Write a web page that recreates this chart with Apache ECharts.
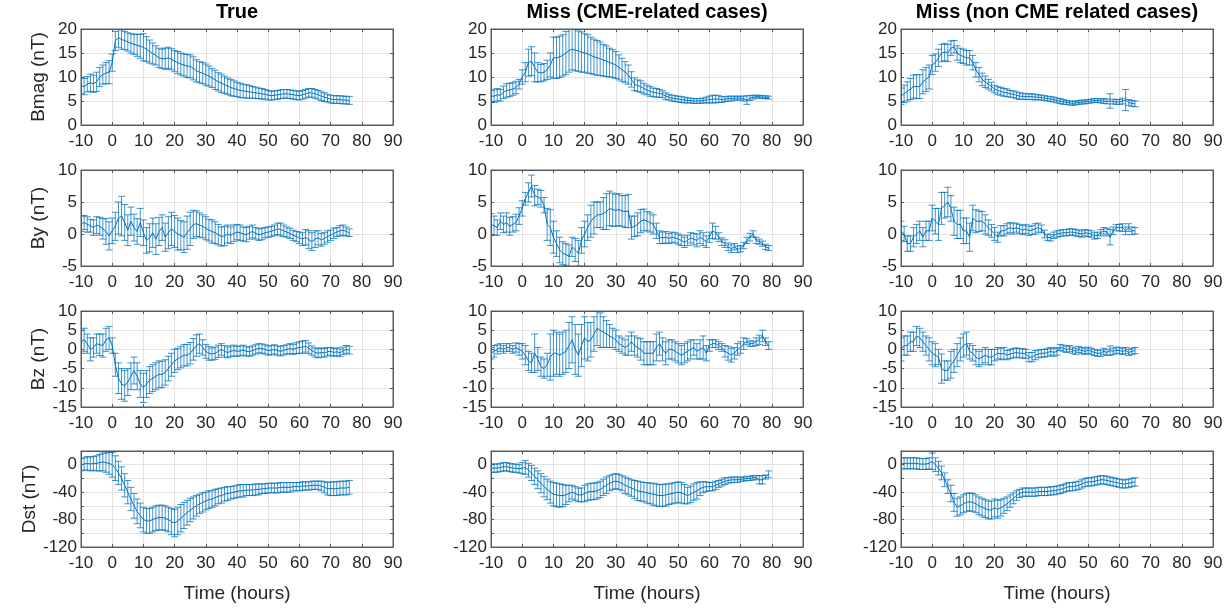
<!DOCTYPE html>
<html><head><meta charset="utf-8">
<script src="https://cdn.jsdelivr.net/npm/echarts@6/dist/echarts.min.js"></script>
<style>html,body{margin:0;padding:0;background:#fff}#c{width:1229px;height:613px}</style>
</head><body><div id="c"></div>
<script>
// ---------- labels / ticks ----------
const columnTitles = ['True', 'Miss (CME-related cases)', 'Miss (non CME related cases)'];
const rowNames = ['Bmag (nT)', 'By (nT)', 'Bz (nT)', 'Dst (nT)'];
const xAxisName = 'Time (hours)';
const xRange = [-10, 90, 10];
const yRanges = [[0, 20, 5], [-5, 10, 5], [-15, 10, 5], [-120, 20, 20]];
const dstTickLabels = [-120, -80, -40, 0];
const startHour = -10; // hourly samples from -10 h
// ---------- TRUE (hours -10..76) ----------
const trueBmagMean = [8.2,8.0,8.5,8.8,8.6,9.0,10.0,10.5,10.8,11.0, 13.0,17.5,18.2,17.8,17.6,17.3,17.0,16.8,16.6,16.4,16.2, 15.8,15.3,14.9,14.5,14.0,13.8,13.8,14.0,13.7,13.3, 13.0,12.7,12.5,12.3,12.2,11.8,11.3,11.0,10.8,10.5, 10.2,9.8,9.4,9.0,8.7,8.4,8.1,7.8,7.6,7.4, 7.2,7.1,7.0,6.9,6.8,6.7,6.6,6.5,6.4,6.2, 6.1,6.2,6.3,6.4,6.5,6.5,6.4,6.3,6.2,6.1, 6.3,6.5,6.7,6.7,6.5,6.3,6.0,5.8,5.6,5.4, 5.3,5.3,5.3,5.2,5.2,5.1];
const trueBmagErr = [1.7,1.7,1.6,1.8,1.8,2.0,2.0,2.0,2.2,2.4, 1.8,2.0,2.0,2.0,1.9,1.9,2.0,2.1,2.3,2.5,2.8, 2.6,2.4,2.2,2.0,2.0,2.0,2.2,2.2,2.2,2.2, 2.3,2.3,2.3,2.4,2.4,2.4,2.3,2.2,2.2,2.2, 2.1,2.0,2.0,1.9,1.9,1.8,1.7,1.7,1.6,1.5, 1.5,1.4,1.4,1.3,1.2,1.2,1.1,1.1,1.0,1.0, 0.9,0.9,0.9,0.9,0.9,0.9,0.9,0.9,0.9,0.9, 0.9,0.9,0.9,0.9,0.9,0.9,0.9,0.9,0.8,0.8, 0.8,0.8,0.8,0.8,0.8,0.8];
const trueByMean = [1.6,1.8,1.5,1.3,1.0,1.4,1.2,0.8,0.4,-0.3, 0.5,1.2,2.5,2.8,1.8,0.6,2.0,1.0,0.4,1.8,0.2, -1.0,-0.6,0.2,-0.8,0.4,1.0,-0.5,0.2,0.8,0.4, 0.0,-0.2,-0.5,0.2,0.8,1.5,1.6,1.4,1.2,0.9, 0.6,0.4,0.2,-0.1,-0.4,-0.3,0.0,-0.2,0.1,0.3, 0.2,0.0,-0.1,0.2,0.4,0.1,-0.1,0.0,0.2,0.3, 0.4,0.6,0.8,0.7,0.5,0.3,0.1,-0.2,-0.4,-0.6, -0.8,-0.5,-0.9,-1.2,-0.8,-0.6,-0.9,-0.7,-0.4,-0.2, 0.1,0.3,0.5,0.6,0.4,0.2];
const trueByErr = [1.2,1.1,1.2,1.0,1.2,1.3,1.4,1.6,2.0,2.2, 2.0,2.2,2.5,3.1,2.8,2.4,2.2,2.1,2.0,2.2,2.0, 2.0,2.2,2.3,2.4,2.2,2.0,2.2,2.5,2.6,2.5, 2.5,2.3,2.4,2.6,2.6,2.2,2.0,1.9,1.8,1.8, 1.7,1.8,1.7,1.6,1.5,1.5,1.4,1.3,1.3,1.2, 1.2,1.1,1.1,1.0,1.0,0.9,0.9,0.9,0.8,0.8, 0.8,0.8,0.9,1.0,0.9,0.8,0.8,0.8,0.8,0.9, 1.0,1.2,1.4,1.4,1.3,1.1,1.0,0.9,0.9,0.8, 0.8,0.7,0.8,0.8,0.7,0.6];
const trueBzMean = [2.0,2.5,1.5,0.0,0.5,1.5,1.2,1.0,2.5,3.0, 1.0,-4.0,-7.5,-9.0,-9.5,-8.5,-7.0,-5.5,-7.0,-9.0,-10.0, -9.0,-8.0,-7.5,-7.0,-6.5,-6.5,-6.0,-5.0,-4.0,-3.0, -2.5,-2.0,-1.5,-1.5,-1.0,0.0,1.0,1.5,0.5,-0.5, -1.0,-1.2,-1.0,-0.5,0.0,-0.5,-0.8,-0.5,-0.3,-0.5, -0.4,-0.2,-0.5,-0.6,-0.3,0.0,0.3,0.2,0.0,-0.3, -0.2,0.0,-0.3,-0.5,-0.2,0.0,0.2,0.0,0.3,0.5, 0.6,0.8,0.3,-0.3,-0.8,-1.0,-0.8,-0.9,-0.6,-0.5, -0.8,-0.6,-0.9,-0.4,0.0,-0.2];
const trueBzErr = [3.0,3.0,2.5,3.0,2.5,2.5,2.8,3.0,3.0,3.0, 2.0,3.0,4.0,4.0,4.0,3.5,3.5,3.5,3.5,3.5,3.8, 3.5,3.5,3.5,3.5,3.5,3.4,3.3,3.2,3.0,3.0, 2.8,2.8,2.8,2.8,2.8,2.8,2.8,2.5,2.0,1.8, 1.8,1.6,1.6,1.6,1.5,1.5,1.4,1.4,1.4,1.3, 1.3,1.3,1.2,1.2,1.2,1.2,1.2,1.2,1.2,1.2, 1.2,1.2,1.2,1.2,1.2,1.2,1.3,1.3,1.4,1.5, 1.6,1.5,1.4,1.2,1.2,1.2,1.2,1.1,1.1,1.0, 1.0,1.0,1.0,1.0,1.0,1.0];
const trueDstMean = [0,1,2,1,2,2,3,4,3,2, 0,-5,-12,-20,-30,-40,-50,-60,-68,-74,-80, -82,-82,-80,-78,-77,-77,-78,-80,-83,-85, -82,-78,-74,-70,-66,-63,-60,-57,-55,-53, -51,-50,-48,-46,-45,-43,-42,-41,-40,-39, -38,-38,-37,-37,-37,-36,-36,-35,-35,-34, -34,-34,-34,-33,-33,-33,-33,-32,-32,-32, -31,-31,-31,-30,-30,-30,-31,-33,-35,-35, -35,-35,-34,-34,-34,-33];
const trueDstErr = [9,9,10,10,10,11,12,13,14,16, 18,18,17,17,17,17,17,18,18,18,18, 18,18,18,18,18,18,18,18,19,20, 20,20,19,18,17,16,15,14,14,13, 13,12,12,11,11,10,10,9,9,9, 9,9,8,8,8,8,8,7,7,7, 7,7,7,7,7,7,7,6,6,6, 6,6,6,6,6,6,7,8,9,10, 10,10,10,10,10,10];
// ---------- MISS, CME-related (hours -10..79) ----------
const cmeBmagMean = [6.0,6.0,6.3,6.2,6.8,7.2,7.3,7.5,7.8,8.5, 10.0,11.0,13.0,13.3,12.0,11.0,10.8,11.0,11.5,12.5,14.0, 14.0,14.2,14.5,15.0,15.5,15.8,15.6,15.4,15.2,15.0, 14.8,14.5,14.2,14.0,13.8,13.5,13.3,13.0,12.8,12.5, 12.0,11.5,11.0,10.5,9.5,8.5,8.2,8.0,7.6,7.3, 7.0,6.8,6.7,6.6,6.4,6.0,5.8,5.6,5.5,5.4, 5.3,5.2,5.1,5.1,5.0,5.0,5.0,5.1,5.2,5.3, 5.4,5.4,5.4,5.3,5.4,5.5,5.5,5.6,5.6,5.6, 5.5,5.2,5.6,5.8,5.9,5.9,5.8,5.8,5.7];
const cmeBmagErr = [1.3,1.3,1.3,1.2,1.3,1.4,1.4,1.3,1.3,1.0, 1.5,2.0,2.8,3.0,3.0,2.0,1.8,1.8,2.0,2.5,4.3, 4.3,4.3,4.3,4.5,4.5,4.3,4.3,4.2,4.2,4.0, 4.0,3.8,3.7,3.6,3.5,3.3,3.2,3.0,2.9,2.8, 2.6,2.4,2.2,2.0,1.6,1.3,1.2,1.2,1.1,1.0, 1.0,0.9,0.9,0.8,0.7,0.7,0.6,0.6,0.6,0.6, 0.6,0.6,0.5,0.5,0.5,0.5,0.5,0.5,0.6,0.7, 0.8,0.8,0.7,0.6,0.5,0.5,0.5,0.4,0.4,0.4, 0.5,0.9,0.5,0.4,0.3,0.3,0.3,0.3,0.3];
const cmeByMean = [1.5,1.3,1.0,2.0,1.5,1.8,1.2,1.5,1.8,2.8, 4.0,5.5,6.5,7.5,6.0,5.8,5.5,4.5,1.5,1.0,-0.5, -1.5,-2.5,-3.0,-3.2,-3.5,-2.0,-2.5,-3.0,-1.0,0.0, 1.0,2.0,2.5,3.0,3.0,3.2,3.5,4.0,3.8,3.7, 3.8,3.6,3.5,3.6,1.0,1.2,1.5,2.0,2.2,2.0, 1.8,1.5,0.5,-0.5,-0.6,-0.5,-0.7,-0.5,-0.6,-0.8, -1.0,-1.3,-1.0,-0.6,-0.8,-1.0,-0.5,-0.8,-1.2,-0.5, 0.5,0.2,-0.5,-1.2,-1.5,-2.0,-2.3,-2.0,-2.4,-2.3, -1.8,-1.0,-0.5,0.0,-1.0,-1.2,-1.5,-2.0,-2.2];
const cmeByErr = [1.7,1.5,1.2,1.3,1.3,1.5,1.4,1.2,1.3,1.3, 1.2,1.0,1.5,1.7,1.6,1.2,1.3,1.2,2.5,2.8,2.5, 2.0,2.0,1.8,1.7,1.8,1.5,1.8,2.0,2.0,2.0, 2.0,2.5,2.5,2.0,2.0,2.5,2.8,2.7,2.6,2.5, 2.5,2.4,2.5,2.6,1.8,1.6,1.8,1.8,1.7,1.5, 1.5,1.5,1.2,1.0,0.9,0.9,0.8,0.8,0.8,0.8, 0.8,0.8,0.8,0.8,0.9,1.0,1.0,1.0,0.9,0.8, 1.2,1.0,0.7,0.6,0.6,0.6,0.6,0.5,0.5,0.5, 0.5,0.5,0.6,0.5,0.5,0.4,0.4,0.4,0.4];
const cmeBzMean = [-1.0,-0.5,0.0,0.5,0.0,0.5,0.5,0.0,0.5,0.0, -0.5,-1.5,-3.0,-3.5,-1.0,-2.5,-4.5,-5.0,-4.0,-2.0,-1.0, -1.0,-1.5,-1.0,-0.5,1.0,2.5,0.0,-1.5,1.0,3.0, 2.0,2.5,4.0,5.5,5.0,4.5,4.0,3.5,3.0,2.5, 1.5,1.0,0.5,1.0,2.0,1.0,0.5,0.0,-1.0,-1.0, -1.0,-1.0,0.5,1.5,0.0,-1.0,0.0,0.0,-0.5,-1.0, -1.5,-1.0,-0.5,0.0,0.5,-0.5,0.0,0.5,-1.0,1.0, 1.5,1.5,1.0,0.5,-0.5,-1.0,-1.5,-1.0,0.0,0.5, 1.5,2.0,1.5,1.5,2.0,2.5,3.5,2.0,1.0];
const cmeBzErr = [1.5,1.5,1.2,1.0,1.0,1.0,1.0,1.0,1.2,1.5, 2.0,2.5,2.5,2.5,5.0,3.0,2.5,2.5,3.0,6.0,6.0, 5.5,5.5,5.5,5.5,6.0,6.0,6.5,5.5,5.5,5.5, 5.0,4.5,4.5,4.5,4.5,4.0,3.5,3.0,2.5,2.5, 2.0,2.0,2.0,2.5,2.5,2.5,2.5,2.8,3.0,3.0, 3.0,3.0,3.5,3.0,3.0,3.0,2.5,2.5,2.5,2.5, 2.5,2.5,2.5,2.5,2.0,2.0,2.5,3.0,2.0,1.5, 1.0,1.0,1.0,1.0,1.5,1.8,1.8,1.5,1.5,1.5, 1.5,0.8,0.7,0.7,1.0,1.2,1.5,1.0,1.0];
const cmeDstMean = [-5,-5,-5,-4,-3,-3,-4,-5,-5,-6, -5,-4,-8,-12,-17,-22,-27,-32,-36,-40,-43, -44,-45,-45,-44,-42,-40,-42,-44,-44,-42, -40,-39,-39,-38,-36,-33,-30,-27,-25,-24, -25,-27,-30,-32,-34,-36,-38,-39,-40,-41, -42,-43,-44,-45,-45,-44,-43,-42,-41,-40, -41,-43,-45,-43,-40,-38,-35,-33,-32,-32, -32,-30,-28,-26,-24,-23,-22,-22,-22,-21, -21,-20,-20,-19,-19,-22,-22,-18,-14];
const cmeDstErr = [6,6,6,6,6,6,6,6,6,6, 8,10,10,11,12,13,14,15,15,16,17, 17,17,16,14,12,10,10,10,10,12, 12,12,12,12,12,12,12,11,11,11, 11,11,12,12,12,13,14,14,14,15, 15,16,16,16,16,16,15,15,15,15, 15,14,12,12,12,12,10,8,7,6, 6,6,5,5,5,4,4,4,4,3, 3,3,3,3,3,6,6,3,5];
// ---------- MISS, non CME related (hours -10..65) ----------
const nonBmagMean = [6.0,6.5,7.0,7.5,8.0,8.0,8.0,9.0,9.5,10.0, 12.5,13.0,14.0,15.0,15.2,15.0,16.0,16.3,15.0,14.5,14.3, 14.0,14.0,13.0,11.5,10.5,9.5,9.0,8.5,8.0,7.5, 7.2,7.0,6.8,6.7,6.5,6.4,6.2,6.0,6.0,5.9, 5.9,5.9,5.8,5.8,5.7,5.6,5.5,5.4,5.3,5.1, 5.0,4.8,4.7,4.6,4.5,4.6,4.7,4.8,4.8,4.9, 5.0,5.1,5.1,5.0,5.0,4.9,5.0,4.9,4.8,4.8, 5.0,5.2,4.7,4.5,4.4];
const nonBmagErr = [1.7,1.8,2.0,2.2,2.4,2.5,2.5,2.5,2.5,2.5, 2.0,1.8,1.8,1.8,1.8,1.8,1.5,1.3,1.5,1.5,1.5, 1.5,1.5,1.5,1.5,1.5,1.3,1.2,1.0,0.9,0.8, 0.8,0.8,0.8,0.8,0.7,0.7,0.7,0.7,0.6,0.6, 0.6,0.6,0.6,0.5,0.5,0.5,0.5,0.5,0.5,0.5, 0.5,0.5,0.4,0.4,0.4,0.4,0.4,0.4,0.4,0.4, 0.4,0.4,0.4,0.4,0.5,0.5,1.5,0.5,0.5,0.5, 0.6,2.2,0.6,0.6,0.6];
const nonByMean = [0.5,0.0,-1.5,-1.5,-0.5,0.0,0.5,-0.5,0.5,0.5, 2.5,2.0,1.5,4.0,4.5,5.0,4.0,2.0,1.5,1.5,0.5, 0.5,-0.5,2.5,2.0,2.0,2.0,1.5,1.0,0.5,0.0, -0.5,0.5,0.5,0.8,1.0,0.8,1.0,0.8,0.6,0.8, 0.5,0.6,0.8,1.0,0.8,0.0,-0.5,-0.6,-0.2,0.0, 0.1,0.2,0.2,0.3,0.3,0.2,0.1,0.0,0.2,0.1, 0.0,-0.3,-0.2,0.2,0.5,0.3,-0.5,0.5,1.0,1.0, 1.0,0.5,1.0,0.5,0.5];
const nonByErr = [1.5,1.2,1.2,1.2,1.5,1.5,1.5,1.5,1.5,1.5, 2.0,2.0,2.5,2.5,2.0,2.3,2.0,2.2,2.2,2.2,2.0, 2.0,2.2,2.0,1.8,1.6,1.5,1.5,1.2,1.0,1.0, 0.8,0.8,0.8,0.8,0.8,0.8,0.7,0.7,0.7,0.7, 0.7,0.7,0.8,0.7,0.6,0.6,0.5,0.5,0.5,0.5, 0.5,0.5,0.5,0.5,0.5,0.5,0.5,0.5,0.5,0.5, 0.5,0.5,0.5,0.5,0.5,0.6,1.2,0.6,0.5,0.5, 0.6,0.6,0.6,0.6,0.5];
const nonBzMean = [0.0,1.0,1.0,2.0,2.0,3.5,3.0,2.0,1.0,0.0, -1.0,-1.5,-2.0,-5.0,-5.5,-5.5,-4.0,-3.0,-1.5,0.0,1.0, 1.5,-0.5,-1.0,-2.0,-2.5,-2.0,-1.5,-2.0,-2.0,-1.5, -1.0,-1.2,-1.0,-1.5,-1.2,-1.0,-0.8,-1.0,-1.0,-1.2, -2.0,-2.0,-1.5,-1.2,-1.0,-1.0,-0.8,-0.5,-0.8,-0.5, 0.5,0.3,0.0,0.2,-0.2,-0.5,0.0,-0.3,-0.5,-0.2, -0.5,-0.8,-1.0,-1.0,-0.5,-0.8,-0.3,-0.5,-0.2,-0.3, -0.5,-0.3,-0.8,-0.5,-0.3];
const nonBzErr = [3.0,2.5,2.5,2.5,2.5,2.5,2.5,2.5,2.5,3.0, 3.0,3.0,2.0,3.8,2.5,2.5,3.5,3.0,3.0,3.0,3.0, 3.0,2.0,2.0,2.0,2.0,2.0,2.0,2.0,2.0,1.5, 1.5,1.5,1.5,1.2,1.2,1.2,1.2,1.2,1.2,1.2, 1.2,1.2,1.2,1.0,1.0,1.0,1.0,1.0,1.0,1.0, 0.8,0.8,0.8,0.8,0.8,0.8,0.8,0.8,0.8,0.8, 0.8,0.8,0.8,0.8,0.8,0.8,1.2,0.8,0.8,0.8, 0.8,0.8,0.8,0.8,0.8];
const nonDstMean = [2,2,2,2,2,2,1,1,1,2, 5,0,-5,-12,-22,-32,-42,-55,-62,-60,-57, -55,-54,-55,-57,-60,-62,-64,-66,-66,-63, -65,-63,-60,-57,-53,-49,-45,-42,-40,-40, -40,-40,-40,-39,-39,-39,-39,-38,-38,-37, -36,-35,-33,-32,-32,-31,-30,-28,-26,-25, -25,-24,-23,-22,-22,-23,-24,-25,-26,-27, -28,-28,-27,-26,-25];
const nonDstErr = [8,8,8,8,8,8,8,8,8,8, 12,10,10,10,10,10,12,13,13,13,13, 13,13,13,13,13,13,13,13,13,13, 13,12,11,10,9,8,7,6,6,6, 6,6,6,6,6,6,6,6,6,6, 6,6,6,6,6,6,6,6,6,6, 6,6,6,6,6,6,6,6,6,6, 6,6,6,6,6];

const panels = [
  [[trueBmagMean, trueBmagErr], [cmeBmagMean, cmeBmagErr], [nonBmagMean, nonBmagErr]],
  [[trueByMean, trueByErr], [cmeByMean, cmeByErr], [nonByMean, nonByErr]],
  [[trueBzMean, trueBzErr], [cmeBzMean, cmeBzErr], [nonBzMean, nonBzErr]],
  [[trueDstMean, trueDstErr], [cmeDstMean, cmeDstErr], [nonDstMean, nonDstErr]]
];

// ---------- layout / style ----------
const colLeft = [81, 491, 901];
const plotW = 312;
const rowTop = [29, 170, 311, 451];
const plotH = 96;
const FONT = 'Liberation Sans, Arial, sans-serif';
const TXT = '#262626';
const BLUE = '#0072BD';
const AXC = '#5a5a5a';

const grids = [], xAxes = [], yAxes = [], series = [], titles = [];
function errRender(params, api) {
  const x = api.value(0), lo = api.value(1), hi = api.value(2);
  const a = api.coord([x, lo]), b = api.coord([x, hi]);
  const w = 3.5;
  const st = { stroke: BLUE, lineWidth: 0.9, opacity: 0.85 };
  return { type: 'group', children: [
    { type: 'line', shape: { x1: a[0], y1: a[1], x2: b[0], y2: b[1] }, style: st },
    { type: 'line', shape: { x1: a[0] - w, y1: a[1], x2: a[0] + w, y2: a[1] }, style: st },
    { type: 'line', shape: { x1: b[0] - w, y1: b[1], x2: b[0] + w, y2: b[1] }, style: st }
  ]};
}
for (let c = 0; c < 3; c++) {
  titles.push({ text: columnTitles[c], left: colLeft[c] + plotW / 2, top: 2, padding: 0, textAlign: 'center',
    textStyle: { fontFamily: FONT, fontSize: 20, fontWeight: 'bold', color: '#000' } });
}
let gi = 0;
for (let r = 0; r < 4; r++) {
  for (let c = 0; c < 3; c++) {
    grids.push({ left: colLeft[c], top: rowTop[r], width: plotW, height: plotH, show: true,
      borderColor: AXC, borderWidth: 1, backgroundColor: '#fff' });
    const [ymin, ymax, yint] = yRanges[r];
    const axLine = { show: true, onZero: false, lineStyle: { color: AXC, width: 1 } };
    const tick = { show: true, inside: true, length: 3, lineStyle: { color: AXC } };
    const split = { show: true, lineStyle: { color: '#e3e3e3', width: 1 } };
    xAxes.push({ type: 'value', gridIndex: gi, min: xRange[0], max: xRange[1], interval: xRange[2],
      axisLine: axLine, axisTick: tick,
      axisLabel: { fontFamily: FONT, fontSize: 17, color: TXT, margin: 8 },
      splitLine: split,
      name: r === 3 ? xAxisName : '', nameLocation: 'middle', nameGap: 37,
      nameTextStyle: { fontFamily: FONT, fontSize: 19, color: TXT } });
    xAxes.push({ type: 'value', gridIndex: gi, position: 'top', min: xRange[0], max: xRange[1], interval: xRange[2],
      axisLine: axLine, axisTick: tick, axisLabel: { show: false }, splitLine: { show: false } });
    yAxes.push({ type: 'value', gridIndex: gi, min: ymin, max: ymax, interval: yint,
      axisLine: axLine, axisTick: tick,
      axisLabel: { fontFamily: FONT, fontSize: 17, color: TXT, margin: 4,
        formatter: r === 3 ? (v => dstTickLabels.includes(v) ? String(v) : '') : (v => String(v)) },
      splitLine: split,
      name: c === 0 ? rowNames[r] : '', nameLocation: 'middle', nameGap: 33, nameRotate: 90,
      nameTextStyle: { fontFamily: FONT, fontSize: 19, color: TXT } });
    yAxes.push({ type: 'value', gridIndex: gi, position: 'right', min: ymin, max: ymax, interval: yint,
      axisLine: axLine, axisTick: tick, axisLabel: { show: false }, splitLine: { show: false } });
    const [mean, err] = panels[r][c];
    const lineData = mean.map((m, i) => [startHour + i, m]);
    const errData = mean.map((m, i) => [startHour + i, m - err[i], m + err[i]]);
    series.push({ type: 'custom', xAxisIndex: 2 * gi, yAxisIndex: 2 * gi, renderItem: errRender,
      data: errData, clip: true, silent: true, z: 2 });
    series.push({ type: 'line', xAxisIndex: 2 * gi, yAxisIndex: 2 * gi, data: lineData,
      showSymbol: false, lineStyle: { color: BLUE, width: 1 }, itemStyle: { color: BLUE }, z: 3, silent: true, clip: true });
    gi++;
  }
}
const chart = echarts.init(document.getElementById('c'), null, { renderer: 'canvas' });
chart.setOption({ animation: false, backgroundColor: '#fff', title: titles, grid: grids,
  xAxis: xAxes, yAxis: yAxes, series: series });
</script></body></html>
